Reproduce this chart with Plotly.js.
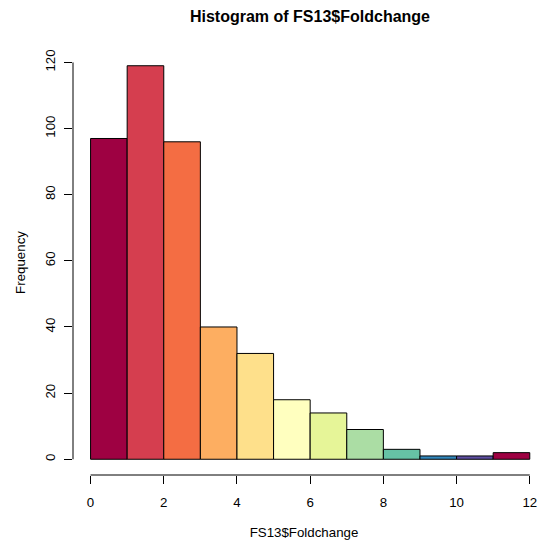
<!DOCTYPE html>
<html>
<head>
<meta charset="utf-8">
<script src="https://cdn.plot.ly/plotly-3.0.1.min.js"></script>
<style>
  html, body { margin: 0; padding: 0; background: #fff; }
  #chart { width: 539px; height: 541px; }
</style>
</head>
<body>
<div id="chart"></div>
<script>
// Histogram bins (left edges, width 1) and counts
const binStarts = [0, 1, 2, 3, 4, 5, 6, 7, 8, 9, 10, 11];
const binWidth = 1;
const counts = [97, 119, 96, 40, 32, 18, 14, 9, 3, 1, 1, 2];

// Spectral palette, recycled for the 12th bin
const spectral = ['#9E0142', '#D53E4F', '#F46D43', '#FDAE61', '#FEE08B', '#FFFFBF',
                  '#E6F598', '#ABDDA4', '#66C2A5', '#3288BD', '#5E4FA2'];

const xTicks = [0, 2, 4, 6, 8, 10, 12];
const yTicks = [0, 20, 40, 60, 80, 100, 120];

const centers = binStarts.map(b => b + binWidth / 2);
const barColors = binStarts.map((_, i) => spectral[i % spectral.length]);

const font = 'Liberation Sans, Arial, sans-serif';
const axisSize = 13.3;

const trace = {
  type: 'bar',
  x: centers,
  y: counts,
  width: binStarts.map(() => binWidth),
  marker: { color: barColors, line: { color: '#000', width: 1 } },
  hoverinfo: 'x+y'
};

const layout = {
  width: 539,
  height: 541,
  margin: { l: 73, r: 4, t: 50, b: 66 },
  paper_bgcolor: '#fff',
  plot_bgcolor: '#fff',
  font: { family: font, size: axisSize, color: '#000' },
  showlegend: false,
  bargap: 0,
  title: {
    text: '<b>Histogram of FS13$Foldchange</b>',
    font: { family: font, size: 16, color: '#000' },
    x: 310 / 539, xref: 'container', xanchor: 'center',
    y: 1 - 16 / 541, yref: 'container', yanchor: 'middle'
  },
  xaxis: {
    range: [-0.48, -0.48 + 462 / 36.6],
    tickvals: xTicks,
    ticktext: xTicks.map(String),
    ticks: 'outside', ticklen: 8, tickwidth: 1, tickcolor: '#000',
    ticklabelstandoff: 7,
    showgrid: false, zeroline: false, showline: false,
    tickfont: { family: font, size: axisSize, color: '#000' },
    title: { text: 'FS13$Foldchange', font: { family: font, size: axisSize, color: '#000' }, standoff: 18 }
  },
  yaxis: {
    range: [-4.76, 123.76],
    tickvals: yTicks,
    ticktext: yTicks.map(String),
    tickangle: -90,
    ticks: 'outside', ticklen: 8, tickwidth: 1, tickcolor: '#000',
    ticklabelstandoff: 4,
    showgrid: false, zeroline: false, showline: false,
    tickfont: { family: font, size: axisSize, color: '#000' },
    title: { text: 'Frequency', font: { family: font, size: axisSize, color: '#000' }, standoff: 14 }
  },
  shapes: [
    // axis lines spanning only the tick range, base-graphics style
    { type: 'line', xref: 'x', yref: 'paper', x0: xTicks[0], x1: xTicks[xTicks.length - 1], y0: 0, y1: 0,
      line: { color: '#000', width: 1 } },
    { type: 'line', xref: 'paper', yref: 'y', x0: 0, x1: 0, y0: yTicks[0], y1: yTicks[yTicks.length - 1],
      line: { color: '#000', width: 1 } }
  ]
};

Plotly.newPlot('chart', [trace], layout, { displayModeBar: false, staticPlot: true });
</script>
</body>
</html>
